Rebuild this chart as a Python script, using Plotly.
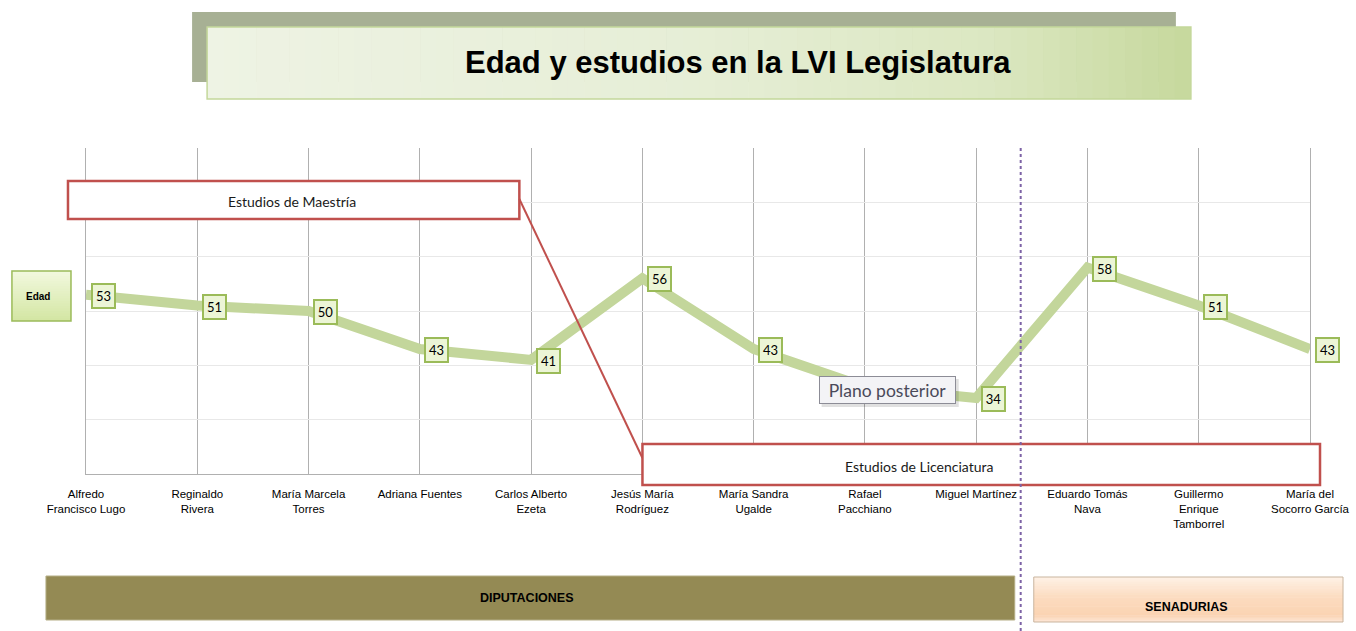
import plotly.graph_objects as go

# ---------------- data ----------------
names = ["Alfredo<br>Francisco Lugo", "Reginaldo<br>Rivera", "María Marcela<br>Torres",
         "Adriana Fuentes", "Carlos Alberto<br>Ezeta", "Jesús María<br>Rodríguez",
         "María Sandra<br>Ugalde", "Rafael<br>Pacchiano", "Miguel Martínez",
         "Eduardo Tomás<br>Nava", "Guillermo<br>Enrique<br>Tamborrel", "María del<br>Socorro García"]
ages = [53, 51, 50, 43, 41, 56, 43, 36, 34, 58, 51, 43]
hidden_label = [False, False, False, False, False, False, False, True, False, False, False, False]
title_text = "Edad y estudios en la LVI Legislatura"
series_name = "Edad"
group_labels = ["DIPUTACIONES", "SENADURIAS"]
study_labels = ["Estudios de Maestría", "Estudios de Licenciatura"]
tooltip_text = "Plano posterior"

# reference canvas geometry (pixels)
REF_W, H = 1356, 631
S = 1362 / 1356            # horizontal compensation for the capture
W = round(REF_W * S)
PL, PR, T, B = 86, 1309, 148, 157
L = PL * S
R = W - PR * S
PW, PH = PR - PL, H - T - B

def X(px):
    return (px - PL) / PW

def Y(py):
    return (H - B - py) / PH

NARROW = "Liberation Sans Narrow, Arial Narrow, Liberation Sans, Arial"
CAL = "Lato, Carlito, Calibri, Open Sans, sans-serif"

fig = go.Figure()
x_idx = list(range(len(names)))
fig.add_trace(go.Scatter(x=x_idx, y=ages, mode="lines",
                         line=dict(color="#c3d69b", width=10),
                         hoverinfo="skip", showlegend=False))

shapes = []
annotations = []

def hexrgb(c):
    c = c.lstrip("#")
    return tuple(int(c[i:i + 2], 16) for i in (0, 2, 4))

def mix(c0, c1, t):
    a, b = hexrgb(c0), hexrgb(c1)
    return "rgb(%d,%d,%d)" % tuple(round(a[i] + (b[i] - a[i]) * t) for i in range(3))

def grad(x0, x1, y0, y1, stops, n=40, horizontal=True):
    for k in range(n):
        t = (k + 0.5) / n
        col = stops[-1][1]
        for j in range(len(stops) - 1):
            if stops[j][0] <= t <= stops[j + 1][0]:
                tt = (t - stops[j][0]) / (stops[j + 1][0] - stops[j][0])
                col = mix(stops[j][1], stops[j + 1][1], tt)
                break
        if horizontal:
            a = x0 + (x1 - x0) * k / n
            b = x0 + (x1 - x0) * (k + 1) / n + 0.6
            shapes.append(dict(type="rect", xref="paper", yref="paper",
                               x0=X(a), x1=X(min(b, x1)), y0=Y(y1), y1=Y(y0),
                               fillcolor=col, line=dict(width=0), layer="above"))
        else:
            a = y0 + (y1 - y0) * k / n
            b = y0 + (y1 - y0) * (k + 1) / n + 0.6
            shapes.append(dict(type="rect", xref="paper", yref="paper",
                               x0=X(x0), x1=X(x1), y0=Y(min(b, y1)), y1=Y(a),
                               fillcolor=col, line=dict(width=0), layer="above"))

def rect(x0, x1, y0, y1, fill=None, line=None, lw=1):
    shapes.append(dict(type="rect", xref="paper", yref="paper",
                       x0=X(x0), x1=X(x1), y0=Y(y1), y1=Y(y0),
                       fillcolor=fill if fill else "rgba(0,0,0,0)",
                       line=dict(color=line if line else "rgba(0,0,0,0)", width=lw if line else 0),
                       layer="above"))

def text(px, py, s, size, color="#000", family=CAL, bold=False):
    annotations.append(dict(x=X(px), y=Y(py), xref="paper", yref="paper",
                            text=("<b>%s</b>" % s) if bold else s, showarrow=False,
                            font=dict(size=size, color=color, family=family),
                            xanchor="center", yanchor="middle"))

# title block
rect(192, 1175, 12, 82, fill="#a7b094")
grad(207, 1190, 27, 99, [(0, "#eef3e4"), (0.5, "#e6eed6"), (0.8, "#dbe7c1"), (1, "#c6d89c")], n=60)
rect(207, 1190, 27, 99, line="#c4d79b", lw=1.5)
text(737, 63, title_text, 31, "#000", NARROW, bold=True)

# study boxes
rect(68, 519, 181, 219, fill="#ffffff", line="#c0504d", lw=2.5)
text(292, 201, study_labels[0], 14, "#1a1a1a")
shapes.append(dict(type="line", xref="paper", yref="paper",
                   x0=X(519), y0=Y(199), x1=X(642), y1=Y(458),
                   line=dict(color="#c0504d", width=2), layer="above"))
rect(642, 1319, 444, 485, fill="#ffffff", line="#c0504d", lw=2.5)
text(918, 466, study_labels[1], 14, "#1a1a1a")

# series name box
grad(12, 71, 271, 321, [(0, "#f2f8de"), (1, "#d3e6a3")], n=20, horizontal=False)
rect(12, 71, 271, 321, line="#9bbb59", lw=1.5)
text(38, 296, series_name, 10, "#000", NARROW, bold=True)

# divider (between category 8 and 9)
shapes.append(dict(type="line", xref="x", yref="paper", x0=8.4, x1=8.4,
                   y0=Y(H), y1=1, line=dict(color="#7d63a6", width=2, dash="dot"),
                   layer="above"))

# group boxes
rect(46, 1014, 576, 620, fill="#948a54", line="#b5ae86", lw=1)
text(527, 598, group_labels[0], 12.5, "#000", NARROW, bold=True)
grad(1033, 1342, 577, 622, [(0, "#fef1e6"), (0.45, "#fcdcc0"), (0.85, "#fbd3b2"), (1, "#fde8d8")], n=20, horizontal=False)
rect(1033, 1342, 577, 622, line="#c9b59f", lw=1)
text(1186, 607, group_labels[1], 12.5, "#000", NARROW, bold=True)

# data labels
for i, v in enumerate(ages):
    if hidden_label[i]:
        continue
    annotations.append(dict(x=i, y=v, xref="x", yref="y", xshift=17, yshift=-1, text=str(v),
                            showarrow=False, font=dict(size=13, color="#000", family=CAL),
                            bgcolor="#ecf5d6", bordercolor="#9bbb59", borderwidth=2,
                            borderpad=1, width=19, height=20))

# tooltip
rect(821, 958, 379, 407, fill="rgba(0,0,0,0.12)")
annotations.append(dict(x=X(886.5), y=Y(390), xref="paper", yref="paper",
                        text=tooltip_text, showarrow=False,
                        font=dict(size=17.5, color="#4a4a5a", family=CAL),
                        bgcolor="#f3f3f6", bordercolor="#8c8c96", borderwidth=1,
                        width=133, height=24, xanchor="center", yanchor="middle"))

fig.update_layout(
    width=W, height=H, autosize=False,
    margin=dict(l=L, r=R, t=T, b=B, pad=0),
    paper_bgcolor="#ffffff", plot_bgcolor="#ffffff",
    showlegend=False, hovermode=False,
    shapes=shapes, annotations=annotations,
    xaxis=dict(range=[0, len(names) - 1], tickvals=x_idx, ticktext=names,
               showgrid=True, gridcolor="#b0b0b0", gridwidth=1,
               showline=True, linecolor="#b0b0b0", linewidth=1, mirror=False,
               zeroline=False, ticks="", ticklabelstandoff=9,
               tickfont=dict(size=11.5, color="#000", family=NARROW),
               fixedrange=True),
    yaxis=dict(range=[20, 80], dtick=10, showgrid=True, gridcolor="#e8e8e8",
               showticklabels=False, zeroline=False, showline=True, mirror=True,
               linecolor="#b0b0b0", ticks="", fixedrange=True),
)

fig.write_html("out.html", config={"displayModeBar": False, "responsive": False},
               post_script="document.body.style.margin='0';document.body.style.overflow='hidden';")
